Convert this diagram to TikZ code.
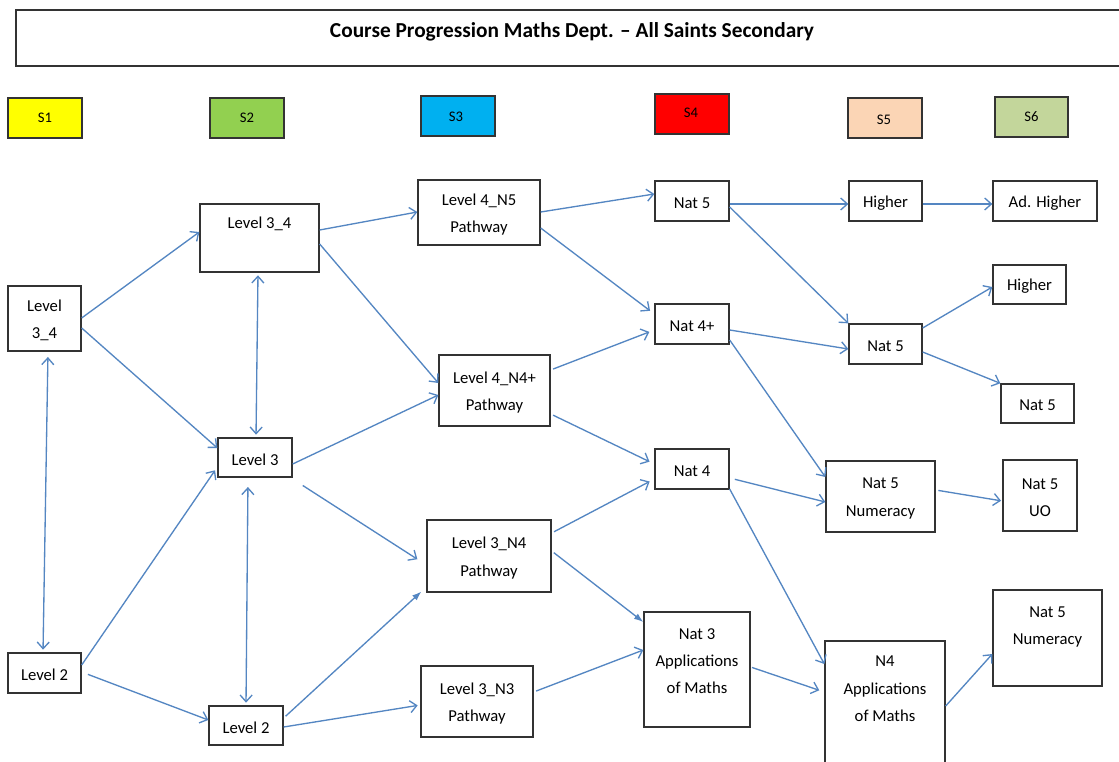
\documentclass[tikz,border=0pt]{standalone}
\usepackage{fontspec}
\setmainfont{Carlito}
\usetikzlibrary{arrows.meta,fit}
\definecolor{arrc}{RGB}{84,134,194}
\definecolor{cS1}{RGB}{255,255,0}
\definecolor{cS2}{RGB}{146,208,80}
\definecolor{cS3}{RGB}{0,176,240}
\definecolor{cS4}{RGB}{255,0,0}
\definecolor{cS5}{RGB}{251,213,181}
\definecolor{cS6}{RGB}{195,214,155}
\begin{document}
\begin{tikzpicture}[x=0.75pt,y=-0.75pt,
  box/.style={draw=black!80,line width=1pt,inner sep=0pt},
  txt/.style={inner sep=0pt,align=center,yshift=-1.5pt,font=\fontsize{12.5}{20.5}\selectfont},
  stxt/.style={inner sep=0pt,font=\fontsize{11}{13}\selectfont},
  arr/.style={draw=arrc,line width=1pt,-{Straight Barb[length=5pt,width=9pt]}},
  darr/.style={draw=arrc,line width=1pt,{Straight Barb[length=5pt,width=9pt]}-{Straight Barb[length=5pt,width=9pt]}},
  farr/.style={draw=arrc,line width=1pt,-{Latex[length=7pt,width=5pt]}}]
\clip (0,0) rectangle (1119,762);
\fill[white] (0,0) rectangle (1119,762);
% title
\node[box,fit={(16,10)(1130,66)}] (title) {};
\node[inner sep=0pt,font=\fontsize{16}{18}\selectfont\bfseries] (titletext) at (572,32) {Course Progression Maths Dept. – All Saints Secondary};
% year boxes
\node[box,fill=cS1,fit={(8,98)(82,138)}] (S1) {};
\node[stxt] (S1t) at (S1.center) {S1};
\node[box,fill=cS2,fit={(210,98)(284,138)}] (S2) {};
\node[stxt] (S2t) at (S2.center) {S2};
\node[box,fill=cS3,fit={(421,96)(495,136)}] (S3) {};
\node[stxt] (S3t) at (456,117) {S3};
\node[box,fill=cS4,fit={(655,94)(729,134)}] (S4) {};
\node[stxt] (S4t) at (691,113) {S4};
\node[box,fill=cS5,fit={(848,98)(922,138)}] (S5) {};
\node[stxt] (S5t) at (884,120) {S5};
\node[box,fill=cS6,fit={(995,97)(1068,137)}] (S6) {};
\node[stxt] (S6t) at (S6.center) {S6};
% S1
\node[box,fit={(8,286)(81,351)}] (L1a) {};
\node[txt] (L1at) at (L1a.center) {Level\\3\_4};
\node[box,fit={(8,653)(81,693)}] (L1b) {};
\node[txt] (L1bt) at (L1b.center) {Level 2};
% S2
\node[box,fit={(200,204)(319,272)}] (L2a) {};
\node[txt] (L2at) at (L2a.north |- 0,222) {Level 3\_4};
\node[box,fit={(218,438)(292,477)}] (L2b) {};
\node[txt] (L2bt) at (L2b.center) {Level 3};
\node[box,fit={(209,706)(283,745)}] (L2c) {};
\node[txt] (L2ct) at (L2c.center) {Level 2};
% S3
\node[box,fit={(418,180)(540,245)}] (L3a) {};
\node[txt] (L3at) at (L3a.center) {Level 4\_N5\\Pathway};
\node[box,fit={(439,355)(550,426)}] (L3b) {};
\node[txt] (L3bt) at (L3b.center) {Level 4\_N4+\\Pathway};
\node[box,fit={(427,520)(551,592)}] (L3c) {};
\node[txt] (L3ct) at (L3c.center) {Level 3\_N4\\Pathway};
\node[box,fit={(421,666)(533,737)}] (L3d) {};
\node[txt] (L3dt) at (L3d.center) {Level 3\_N3\\Pathway};
% S4
\node[box,fit={(655,181)(729,221)}] (L4a) {};
\node[txt] (L4at) at (L4a.center) {Nat 5};
\node[box,fit={(655,304)(729,344)}] (L4b) {};
\node[txt] (L4bt) at (L4b.center) {Nat 4+};
\node[box,fit={(655,449)(729,489)}] (L4c) {};
\node[txt] (L4ct) at (L4c.center) {Nat 4};
\node[box,fit={(644,612)(750,727)}] (L4d) {};
\node[txt] (L4dt) at (L4d.north |- 0,659) {Nat 3\\Applications\\of Maths};
% S5
\node[box,fit={(849,181)(922,221)}] (L5a) {};
\node[txt] (L5at) at (L5a.center) {Higher};
\node[box,fit={(849,324)(922,364)}] (L5b) {};
\node[txt] (L5bt) at (L5b.center) {Nat 5};
\node[box,fit={(826,461)(935,532)}] (L5c) {};
\node[txt] (L5ct) at (L5c.center) {Nat 5\\Numeracy};
\node[box,fit={(825,641)(945,790)}] (L5d) {};
\node[txt] (L5dt) at (L5d.north |- 0,687) {N4\\Applications\\of Maths};
% S6
\node[box,fit={(993,181)(1097,221)}] (L6a) {};
\node[txt] (L6at) at (L6a.center) {Ad. Higher};
\node[box,fit={(993,265)(1066,304)}] (L6b) {};
\node[txt] (L6bt) at (L6b.center) {Higher};
\node[box,fit={(1001,384)(1074,423)}] (L6c) {};
\node[txt] (L6ct) at (L6c.center) {Nat 5};
\node[box,fit={(1003,460)(1077,531)}] (L6d) {};
\node[txt] (L6dt) at (L6d.center) {Nat 5\\UO};
\node[box,fit={(993,590)(1102,686)}] (L6e) {};
\node[txt] (L6et) at (L6e.north |- 0,625) {Nat 5\\Numeracy};
% connectors
\draw[arr] (L1a.east |- 0,318) -- (L2a.west |- 0,232);
\draw[arr] (L1a.east |- 0,328) -- (L2b.west |- 0,448);
\draw[darr,shorten <=4pt,shorten >=2pt] (L1a.south -| 48,0) -- (L1b.north -| 43,0);
\draw[arr,shorten >=3pt] (L1b.east |- 0,665) -- (L2b.west |- 0,467);
\draw[arr,shorten <=5pt] (L1b.east |- 0,672) -- (L2c.west |- 0,720);
\draw[darr,shorten <=2pt,shorten >=2pt] (L2a.south -| 258,0) -- (L2b.north -| 256,0);
\draw[darr,shorten <=7pt,shorten >=2pt] (L2b.south -| 248,0) -- (L2c.north -| 246,0);
\draw[arr] (L2a.east |- 0,230) -- (L3a.west |- 0,212);
\draw[arr] (L2a.east |- 0,244) -- (L3b.west |- 0,383);
\draw[arr] (L2b.east |- 0,464) -- (L3b.west |- 0,395);
\draw[arr,shorten <=9pt,shorten >=8pt] (L2b.east |- 0,479) -- (L3c.west |- 0,565);
\draw[farr,shorten <=2pt,shorten >=5pt] (L2c.east |- 0,718) -- (L3c.west |- 0,587);
\draw[arr,shorten >=2pt] (L2c.east |- 0,727) -- (L3d.west |- 0,705);
\draw[arr] (L3a.east |- 0,212) -- (L4a.west |- 0,194);
\draw[arr,shorten >=4pt] (L3a.east |- 0,228) -- (L4b.west |- 0,314);
\draw[arr,shorten <=2pt,shorten >=4pt] (L3b.east |- 0,370) -- (L4b.west |- 0,330);
\draw[arr,shorten <=2pt,shorten >=4pt] (L3b.east |- 0,414) -- (L4c.west |- 0,464);
\draw[arr,shorten <=2pt,shorten >=4pt] (L3c.east |- 0,533) -- (L4c.west |- 0,479);
\draw[farr,shorten <=2pt] (L3c.east |- 0,551) -- (L4d.west |- 0,622);
\draw[arr,shorten <=2pt] (L3d.east |- 0,692) -- (L4d.west |- 0,650);
\draw[arr] (L4a.east |- 0,204) -- (L5a.west |- 0,204);
\draw[arr] (L4a.east |- 0,207) -- (L5b.north west);
\draw[arr] (L4b.east |- 0,330) -- (L5b.west |- 0,349);
\draw[arr] (L4b.east |- 0,340) -- (L5c.west |- 0,477);
\draw[arr,shorten <=4pt] (L4c.east |- 0,478) -- (L5c.west |- 0,502);
\draw[arr] (L4c.east |- 0,489) -- (L5d.west |- 0,664);
\draw[arr,shorten <=1pt,shorten >=4pt] (L4d.east |- 0,667) -- (L5d.west |- 0,692);
\draw[arr] (L5a.east |- 0,204) -- (L6a.west |- 0,204);
\draw[arr] (L5b.east |- 0,328) -- (L6b.west |- 0,287);
\draw[arr] (L5b.east |- 0,352) -- (L6c.north west);
\draw[arr,shorten <=2pt,shorten >=1pt] (L5c.east |- 0,490) -- (L6d.west |- 0,501);
\draw[arr] (L5d.east |- 0,706) -- (L6e.west |- 0,654);
\end{tikzpicture}
\end{document}
